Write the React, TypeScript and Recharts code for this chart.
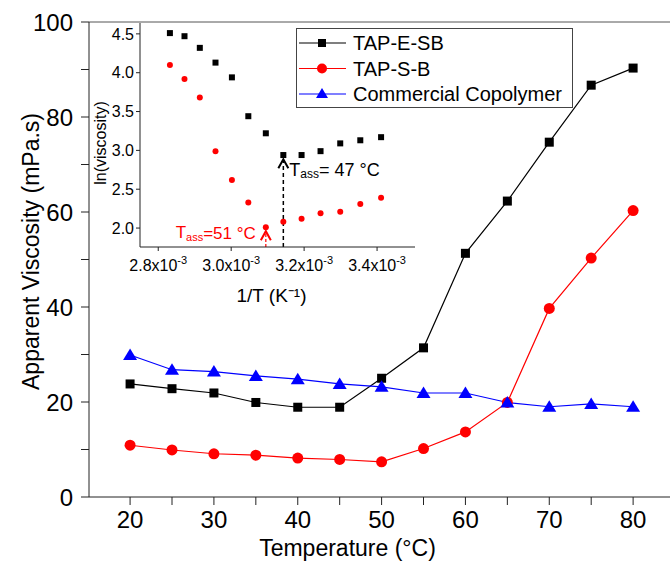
import React from "react";
import {
  LineChart,
  Line,
  XAxis,
  YAxis,
  Legend,
  ReferenceLine,
  ReferenceDot,
  ScatterChart,
  Scatter,
} from "recharts";

// main plot: viscosity vs temperature
const temps = [20, 25, 30, 35, 40, 45, 50, 55, 60, 65, 70, 75, 80];
const tapESB = [23.8, 22.8, 21.9, 19.9, 18.9, 18.9, 25, 31.4, 51.3, 62.3, 74.7, 86.7, 90.3];
const tapSB = [10.9, 9.9, 9.1, 8.8, 8.2, 7.9, 7.4, 10.2, 13.7, 19.9, 39.7, 50.3, 60.3];
const commercial = [29.9, 26.8, 26.4, 25.5, 24.8, 23.8, 23.2, 21.9, 21.9, 19.9, 19, 19.6, 19];

// inset: ln(viscosity) vs 1/T
const invT = [0.002832, 0.002872, 0.002914, 0.002957, 0.003002, 0.003047, 0.003095, 0.003143, 0.003193, 0.003245, 0.003299, 0.003354, 0.003411];
const lnESB = [4.51, 4.47, 4.32, 4.13, 3.94, 3.44, 3.22, 2.94, 2.94, 2.99, 3.09, 3.13, 3.17];
const lnSB = [4.1, 3.92, 3.68, 2.99, 2.62, 2.33, 2.01, 2.08, 2.12, 2.19, 2.21, 2.31, 2.39];

const xTicks = [20, 25, 30, 35, 40, 45, 50, 55, 60, 65, 70, 75, 80];
const yTicks = [0, 10, 20, 30, 40, 50, 60, 70, 80, 90, 100];
const insetXTicks = [0.0028, 0.0029, 0.003, 0.0031, 0.0032, 0.0033, 0.0034];
const insetYTicks = [2.0, 2.5, 3.0, 3.5, 4.0, 4.5];

const seriesNames = ["TAP-E-SB", "TAP-S-B", "Commercial Copolymer"];
const seriesColors = ["#000000", "#ff0000", "#0000ff"];

const FONT = "Arial, 'Liberation Sans', sans-serif";

const data = temps.map((t, i) => ({
  t,
  esb: tapESB[i],
  sb: tapSB[i],
  com: commercial[i],
}));
const insetESB = invT.map((x, i) => ({ x, y: lnESB[i] }));
const insetSB = invT.map((x, i) => ({ x, y: lnSB[i] }));

const Square = (props: any) => {
  const { cx, cy } = props;
  if (cx == null || cy == null) return null;
  return <rect x={cx - 4.5} y={cy - 4.5} width={9} height={9} fill="#000" />;
};
const Circle = (props: any) => {
  const { cx, cy } = props;
  if (cx == null || cy == null) return null;
  return <circle cx={cx} cy={cy} r={5.5} fill="#ff0000" />;
};
const Triangle = (props: any) => {
  const { cx, cy } = props;
  if (cx == null || cy == null) return null;
  return <path d={`M${cx},${cy - 6.5} L${cx + 7},${cy + 5} L${cx - 7},${cy + 5} Z`} fill="#0000ff" />;
};
const SmallSquare = (props: any) => {
  const { cx, cy } = props;
  return <rect x={cx - 3} y={cy - 3} width={6} height={6} fill="#000" />;
};
const SmallCircle = (props: any) => {
  const { cx, cy } = props;
  return <circle cx={cx} cy={cy} r={3} fill="#ff0000" />;
};

const legendMarkers = [
  (x: number, y: number) => <rect x={x - 4} y={y - 4} width={8} height={8} fill="#000" />,
  (x: number, y: number) => <circle cx={x} cy={y} r={5} fill="#ff0000" />,
  (x: number, y: number) => <path d={`M${x},${y - 6} L${x + 6},${y + 4} L${x - 6},${y + 4} Z`} fill="#0000ff" />,
];

const renderLegend = () => (
  <div style={{ width: 277, height: 80, border: "1px solid #444", background: "#fff", boxSizing: "border-box" }}>
    <svg width={275} height={78}>
      {seriesNames.map((name, i) => {
        const y = 14 + i * 25.5;
        return (
          <g key={name}>
            <line x1={2} x2={49} y1={y} y2={y} stroke={seriesColors[i]} strokeWidth={1.2} />
            {legendMarkers[i](25, y)}
            <text x={56} y={y} dominantBaseline="central" fontSize={20} fontFamily={FONT} fill="#000">
              {name}
            </text>
          </g>
        );
      })}
    </svg>
  </div>
);

const InsetXTick = (props: any) => {
  const { x, y, payload } = props;
  const v = Math.round(payload.value * 10000);
  if (v % 2 !== 0) return null;
  return (
    <text x={x} y={y + 18} textAnchor="middle" fontSize={16} fontFamily={FONT} fill="#000">
      {(v / 10).toFixed(1)}x10
      <tspan dy={-7} fontSize={11}>-3</tspan>
    </text>
  );
};

const ArrowHead = (color: string) => (props: any) => {
  const { cx, cy } = props;
  return (
    <path d={`M${cx - 5},${cy + 9} L${cx},${cy} L${cx + 5},${cy + 9}`} stroke={color} strokeWidth={2} fill="none" />
  );
};

const TassLabel = (value: string, color: string, anchor: "start" | "end", size: number) => (props: any) => {
  const { cx, cy } = props;
  const x = anchor === "start" ? cx + 6 : cx - 10;
  return (
    <text x={x} y={cy} textAnchor={anchor} dominantBaseline="central" fontSize={size} fontFamily={FONT} fill={color}>
      T<tspan fontSize={size - 6} dy={4}>ass</tspan>
      <tspan dy={-4}>{value}</tspan>
    </text>
  );
};

function App() {
  return (
    <div style={{ position: "absolute", left: 0, top: 0, width: 670, height: 562, background: "#fff", fontFamily: FONT }}>
      <LineChart width={670} height={562} data={data} margin={{ top: 22, right: 0, bottom: 0, left: 0 }}>
        <XAxis
          dataKey="t"
          type="number"
          domain={[15.1, 84.4]}
          allowDataOverflow
          ticks={xTicks}
          tickFormatter={(v: number) => (v % 10 === 0 ? String(v) : "")}
          height={65}
          stroke="#222"
          tickSize={8}
          tickMargin={6}
          tick={{ fontSize: 24, fill: "#000", fontFamily: FONT }}
          label={{ value: "Temperature (°C)", position: "insideBottom", offset: 6, dx: -32, style: { fontSize: 23, fill: "#000", fontFamily: FONT } }}
        />
        <YAxis
          type="number"
          domain={[0, 100]}
          ticks={yTicks}
          tickFormatter={(v: number) => (v % 20 === 0 ? String(v) : "")}
          width={89}
          stroke="#222"
          tickSize={8}
          tickMargin={8}
          tick={{ fontSize: 24, fill: "#000", fontFamily: FONT }}
          label={{ value: "Apparent Viscosity (mPa.s)", angle: -90, position: "center", dx: -14, dy: -8, style: { fontSize: 23, fill: "#000", fontFamily: FONT } }}
        />
        <ReferenceLine y={100} stroke="#555" strokeWidth={1} />
        <Legend layout="vertical" align="center" verticalAlign="middle" wrapperStyle={{ left: 296, top: 28, width: 277 }} content={renderLegend} />
        <Line dataKey="esb" name={seriesNames[0]} stroke={seriesColors[0]} strokeWidth={1.2} dot={<Square />} isAnimationActive={false} />
        <Line dataKey="sb" name={seriesNames[1]} stroke={seriesColors[1]} strokeWidth={1.2} dot={<Circle />} isAnimationActive={false} />
        <Line dataKey="com" name={seriesNames[2]} stroke={seriesColors[2]} strokeWidth={1.2} dot={<Triangle />} isAnimationActive={false} />
      </LineChart>

      <div style={{ position: "absolute", left: 0, top: 0, pointerEvents: "none" }}>
        <ScatterChart width={430} height={330} margin={{ top: 23, right: 15, bottom: 23, left: 0 }}>
          <XAxis
            dataKey="x"
            type="number"
            domain={[0.00275, 0.003504]}
            allowDataOverflow
            ticks={insetXTicks}
            tick={<InsetXTick />}
            height={60}
            stroke="#222"
            tickSize={4}
            label={{ value: "1/T (K⁻¹)", position: "insideBottom", offset: 5, dx: -6, style: { fontSize: 19, fill: "#000", fontFamily: FONT } }}
          />
          <YAxis
            dataKey="y"
            type="number"
            domain={[1.756, 4.64]}
            allowDataOverflow
            ticks={insetYTicks}
            tickFormatter={(v: number) => v.toFixed(1)}
            width={140}
            stroke="#222"
            tickSize={4}
            tickMargin={2}
            tick={{ fontSize: 16, fill: "#000", fontFamily: FONT }}
            label={{ value: "ln(viscosity)", angle: -90, position: "center", dx: 30, dy: 8, style: { fontSize: 16, fill: "#000", fontFamily: FONT } }}
          />
          <Scatter data={insetESB} shape={<SmallSquare />} isAnimationActive={false} />
          <Scatter data={insetSB} shape={<SmallCircle />} isAnimationActive={false} />
          <ReferenceLine segment={[{ x: 0.003143, y: 1.756 }, { x: 0.003143, y: 2.87 }]} stroke="#000" strokeWidth={1.5} strokeDasharray="4 3" />
          <ReferenceDot x={0.003143} y={2.886} shape={ArrowHead("#000")} />
          <ReferenceDot x={0.003143} y={2.748} shape={TassLabel("= 47 °C", "#000", "start", 18)} />
          <ReferenceLine segment={[{ x: 0.003095, y: 1.756 }, { x: 0.003095, y: 1.94 }]} stroke="#ff0000" strokeWidth={1.2} strokeDasharray="3 2" />
          <ReferenceDot x={0.003095} y={1.96} shape={ArrowHead("#ff0000")} />
          <ReferenceDot x={0.003095} y={1.94} shape={TassLabel("=51 °C", "#ff0000", "end", 17)} />
        </ScatterChart>
      </div>
    </div>
  );
}

export default App;
